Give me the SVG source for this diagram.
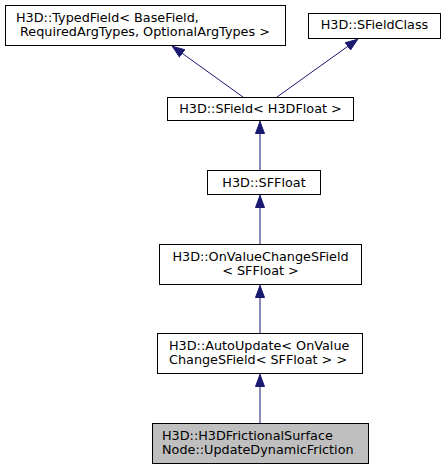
<svg xmlns="http://www.w3.org/2000/svg" width="445" height="469" viewBox="0 0 445 469">
<style>
.box{fill:#ffffff;stroke:#000000;stroke-width:1}
.cur{fill:#bfbfbf;stroke:#000000;stroke-width:1}
text{font-family:"DejaVu Sans","Liberation Sans",sans-serif;font-size:12.8px;fill:#000000}
.e{stroke:#191970;stroke-width:1;fill:none}
.m{text-anchor:middle}
</style>
<defs>
<marker id="ah" viewBox="0 0 13 10" refX="13" refY="5" markerWidth="13" markerHeight="10" markerUnits="userSpaceOnUse" orient="auto">
<path d="M0.5,0.5 L12.5,5 L0.5,9.5 Z" fill="#191970" stroke="#191970"/>
</marker>
</defs>
<rect width="445" height="469" fill="#ffffff"/>
<g id="connectors">
<path class="e" d="M243,97 L172,46" marker-end="url(#ah)"/>
<path class="e" d="M277,97 L358,39" marker-end="url(#ah)"/>
<path class="e" d="M260,170 L260,121" marker-end="url(#ah)"/>
<path class="e" d="M260,244 L260,195" marker-end="url(#ah)"/>
<path class="e" d="M260,333 L260,285" marker-end="url(#ah)"/>
<path class="e" d="M260,423 L260,374" marker-end="url(#ah)"/>
</g>
<g id="typedfield">
<rect class="box" x="5.5" y="5.5" width="280" height="40"/>
<text x="16" y="22">H3D::TypedField&lt; BaseField,</text>
<text x="20" y="36">RequiredArgTypes, OptionalArgTypes &gt;</text>
</g>
<g id="sfieldclass">
<rect class="box" x="308.5" y="13.5" width="132" height="25"/>
<text class="m" x="374.5" y="29">H3D::SFieldClass</text>
</g>
<g id="sfield">
<rect class="box" x="167.5" y="97.5" width="186" height="23"/>
<text class="m" x="260.5" y="113">H3D::SField&lt; H3DFloat &gt;</text>
</g>
<g id="sffloat">
<rect class="box" x="207.5" y="170.5" width="113" height="24"/>
<text class="m" x="264" y="187">H3D::SFFloat</text>
</g>
<g id="onvaluechange">
<rect class="box" x="159.5" y="244.5" width="202" height="40"/>
<text class="m" x="260.5" y="261">H3D::OnValueChangeSField</text>
<text class="m" x="260.5" y="275">&lt; SFFloat &gt;</text>
</g>
<g id="autoupdate">
<rect class="box" x="157.5" y="333.5" width="205" height="40"/>
<text x="169" y="350">H3D::AutoUpdate&lt; OnValue</text>
<text x="169" y="364">ChangeSField&lt; SFFloat &gt; &gt;</text>
</g>
<g id="current">
<rect class="cur" x="152.5" y="423.5" width="216" height="40"/>
<text x="162" y="440">H3D::H3DFrictionalSurface</text>
<text x="162" y="454">Node::UpdateDynamicFriction</text>
</g>
</svg>
